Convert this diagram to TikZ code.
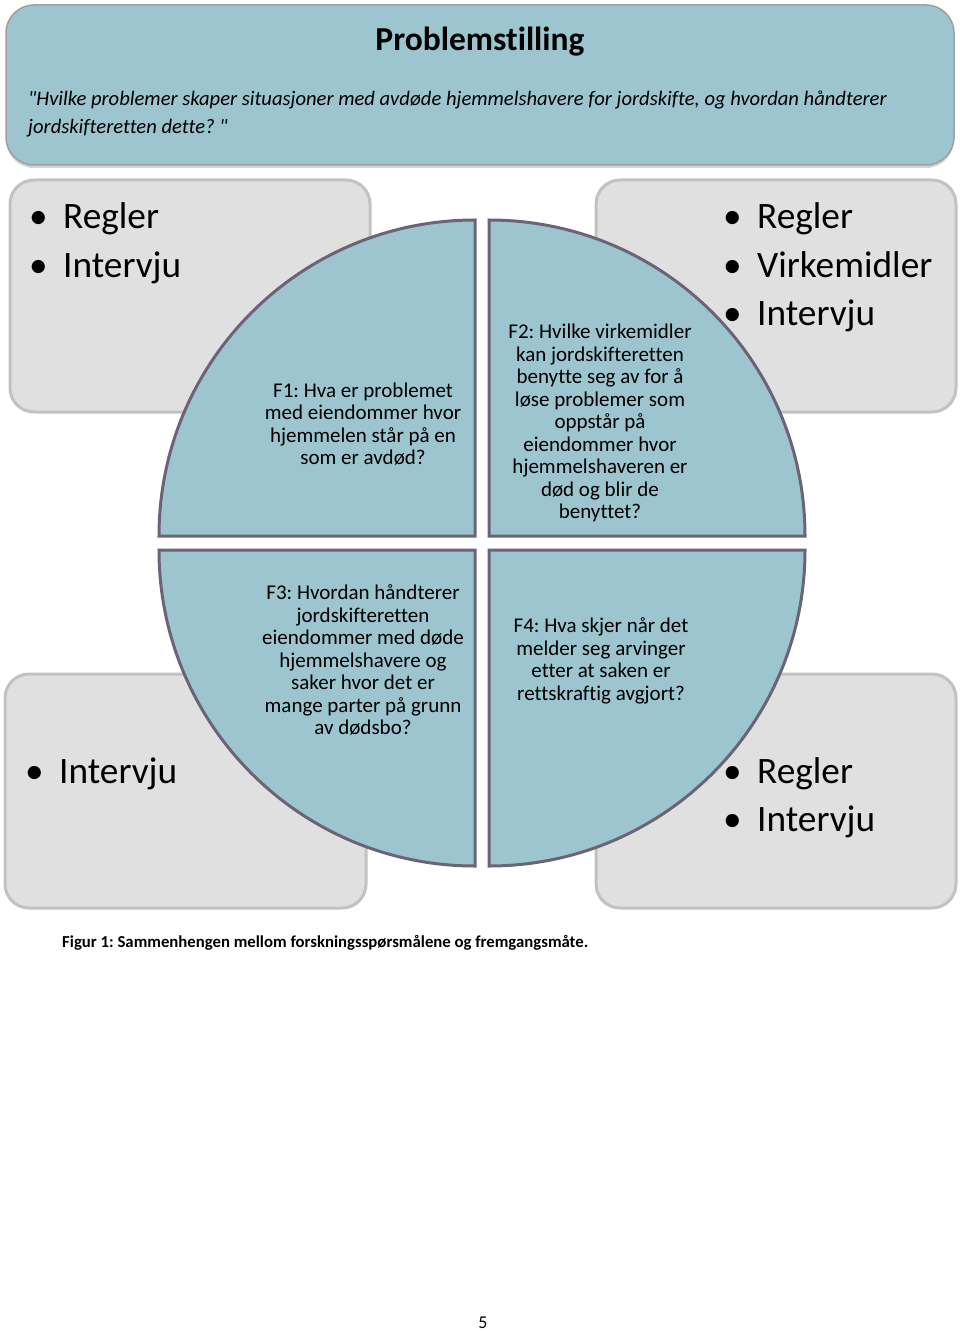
\documentclass[tikz,border=0pt]{standalone}
\usepackage{fontspec}
\setmainfont{Carlito}[Ligatures={NoCommon}]
\usepackage{xcolor}
\usepackage{tikz}
\usetikzlibrary{shadows}
\definecolor{qblue}{RGB}{157,197,207}
\definecolor{qedge}{RGB}{108,100,118}
\definecolor{gfill}{RGB}{224,224,224}
\definecolor{gedge}{RGB}{194,194,194}
\newcommand{\bul}{\makebox[34pt][l]{•}}
\frenchspacing

\begin{document}
\begin{tikzpicture}[x=1pt, y=-1pt,
		topbox/.style={draw=gray!75, line width=1.5pt, fill=qblue, rounded corners=28pt,
			drop shadow={shadow xshift=0pt, shadow yshift=-3pt, opacity=0.35}},
		greybox/.style={draw=gedge, line width=3pt, fill=gfill, rounded corners=24pt},
		quad/.style={draw=qedge, line width=3pt, fill=qblue, line join=miter},
		qtext/.style={align=center, font=\fontsize{21}{22.5}\selectfont, inner sep=0pt},
		bulletline/.style={anchor=base west, font=\fontsize{37.3}{48}\selectfont, inner sep=0pt},
		]
		\useasboundingbox (0,0) rectangle (960,1332);
		
		% problemstilling
		\draw[topbox] (6,5) rectangle (954,165);
		\node[font=\fontsize{33.5}{40}\bfseries] (title) at (480,42) {Problemstilling};
		\node[anchor=base west, align=left, inner sep=0pt, font=\fontsize{20.6}{28}\itshape] (quote) at (28,134)
		{\textquotedbl Hvilke problemer skaper situasjoner med avdøde hjemmelshavere for jordskifte, og hvordan håndterer\\
			jordskifteretten dette? \textquotedbl};
		
		% grey boxes
		\draw[greybox] (10,180) rectangle (370,412);
		\draw[greybox] (596,180) rectangle (956,412);
		\draw[greybox] (5,674) rectangle (366,908);
		\draw[greybox] (596,674) rectangle (956,908);
		
		% quadrants
		\draw[quad] (475,536) -- (475,220) arc[start angle=90, end angle=180, radius=316pt] -- cycle;
		\draw[quad] (489,536) -- (489,220) arc[start angle=90, end angle=0, radius=316pt] -- cycle;
		\draw[quad] (475,550) -- (475,866) arc[start angle=270, end angle=180, radius=316pt] -- cycle;
		\draw[quad] (489,550) -- (489,866) arc[start angle=270, end angle=360, radius=316pt] -- cycle;
		
		\node[qtext] (f1) at (363,424) {F1: Hva er problemet\\med eiendommer hvor\\hjemmelen står på en\\som er avdød?};
		\node[qtext] (f2) at (600,423) {F2: Hvilke virkemidler\\kan jordskifteretten\\benytte seg av for å\\løse problemer som\\oppstår på\\eiendommer hvor\\hjemmelshaveren er\\død og blir de\\benyttet?};
		\node[qtext] (f3) at (363,660) {F3: Hvordan håndterer\\jordskifteretten\\eiendommer med døde\\hjemmelshavere og\\saker hvor det er\\mange parter på grunn\\av dødsbo?};
		\node[qtext] (f4) at (601,661) {F4: Hva skjer når det\\melder seg arvinger\\etter at saken er\\rettskraftig avgjort?};
		
		% methods
		\foreach \txt [count=\i] in {Regler,Intervju}
		\node[bulletline] (tl\i) at (29,181+48*\i) {\bul\txt};
		\foreach \txt [count=\i] in {Regler,Virkemidler,Intervju}
		\node[bulletline] (tr\i) at (723,181+48*\i) {\bul\txt};
		\node[bulletline] (bl1) at (25,783) {\bul Intervju};
		\foreach \txt [count=\i] in {Regler,Intervju}
		\node[bulletline] (br\i) at (723,735+48*\i) {\bul\txt};
		
		\node[anchor=base west, inner sep=0pt, font=\fontsize{16.75}{20}\bfseries] (caption) at (62,947)
		{Figur 1: Sammenhengen mellom forskningsspørsmålene og fremgangsmåte.};
		\node[font=\fontsize{18}{20}\selectfont] (page) at (483,1323) {5};
\end{tikzpicture}
\end{document}
